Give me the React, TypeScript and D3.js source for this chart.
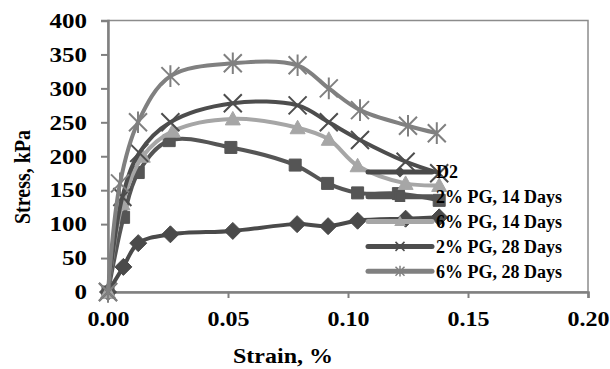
import React, { useEffect, useRef } from "react";
import * as d3 from "d3";

const seriesNames = ["D2", "2% PG, 14 Days", "6% PG, 14 Days", "2% PG, 28 Days", "6% PG, 28 Days"];

const strainD2 = [0, 0.0064, 0.0126, 0.026, 0.052, 0.0788, 0.0917, 0.104, 0.124, 0.138];
const stressD2 = [0, 37, 72, 85, 90, 100, 97, 105, 108, 110];

const strain2PG14 = [0, 0.0065, 0.0126, 0.0255, 0.0512, 0.078, 0.0915, 0.104, 0.121, 0.138];
const stress2PG14 = [0, 110, 176, 223, 213, 187, 160, 146, 145, 135];

const strain6PG14 = [0, 0.006, 0.0145, 0.027, 0.052, 0.079, 0.092, 0.104, 0.124, 0.138];
const stress6PG14 = [0, 130, 200, 237, 255, 242, 225, 186, 160, 157];

const strain2PG28 = [0, 0.006, 0.013, 0.026, 0.052, 0.079, 0.092, 0.105, 0.124, 0.138];
const stress2PG28 = [0, 140, 205, 250, 278, 275, 250, 224, 192, 175];

const strain6PG28 = [0, 0.005, 0.0125, 0.026, 0.052, 0.079, 0.092, 0.105, 0.125, 0.137];
const stress6PG28 = [0, 160, 250, 318, 337, 334, 300, 268, 245, 234];

const yTicks = [0, 50, 100, 150, 200, 250, 300, 350, 400];
const xTicks = [0, 0.05, 0.1, 0.15, 0.2];

const colors = ["#4a4a4a", "#555555", "#a6a6a6", "#4d4d4d", "#808080"];
const markers = ["diamond", "square", "triangle", "x", "star"];

const FONT = "'Liberation Serif', 'Times New Roman', serif";

function markerPath(kind: string, s: number) {
  const h = s / 2;
  if (kind === "diamond") return `M0,${-h}L${h},0L0,${h}L${-h},0Z`;
  if (kind === "square") return `M${-h},${-h}H${h}V${h}H${-h}Z`;
  if (kind === "triangle") return `M0,${-h}L${h},${h * 0.8}L${-h},${h * 0.8}Z`;
  if (kind === "x") return `M${-h},${-h}L${h},${h}M${-h},${h}L${h},${-h}`;
  return `M${-h},${-h}L${h},${h}M${-h},${h}L${h},${-h}M0,${-h * 1.2}V${h * 1.2}`;
}

const App = () => {
  const ref = useRef<SVGSVGElement>(null);
  const W = 610, H = 369;

  useEffect(() => {
    const svg = d3.select(ref.current);
    svg.selectAll("*").remove();

    const x = d3.scaleLinear().domain([0, 0.2]).range([108, 588]);
    const y = d3.scaleLinear().domain([0, 400]).range([292, 20.5]);

    const data = [
      { name: seriesNames[0], xs: strainD2, ys: stressD2 },
      { name: seriesNames[1], xs: strain2PG14, ys: stress2PG14 },
      { name: seriesNames[2], xs: strain6PG14, ys: stress6PG14 },
      { name: seriesNames[3], xs: strain2PG28, ys: stress2PG28 },
      { name: seriesNames[4], xs: strain6PG28, ys: stress6PG28 },
    ];

    // frame
    svg.append("rect")
      .attr("x", x(0)).attr("y", y(400))
      .attr("width", x(0.2) - x(0)).attr("height", y(0) - y(400))
      .attr("fill", "none").attr("stroke", "#8c8c8c").attr("stroke-width", 1.5);

    // y axis
    const yAxis = svg.append("g").attr("transform", `translate(${x(0)},0)`)
      .call(d3.axisLeft(y).tickValues(yTicks).tickSize(7).tickFormat(d3.format("d")));
    yAxis.select(".domain").attr("stroke", "#808080").attr("stroke-width", 2.5);
    yAxis.selectAll(".tick line").attr("stroke", "#808080").attr("stroke-width", 2);
    yAxis.selectAll(".tick text")
      .attr("x", 0).attr("dy", "0.34em")
      .attr("transform", "translate(-21,0) scale(1.25,1)")
      .attr("font-family", FONT).attr("font-weight", "bold").attr("font-size", 20).attr("fill", "#000");

    // x axis
    const xAxis = svg.append("g").attr("transform", `translate(0,${y(0)})`)
      .call(d3.axisBottom(x).tickValues(xTicks).tickSize(6).tickFormat(d3.format(".2f")));
    xAxis.select(".domain").attr("stroke", "#808080").attr("stroke-width", 2.5);
    xAxis.selectAll(".tick line").attr("stroke", "#808080").attr("stroke-width", 2);
    xAxis.selectAll(".tick text")
      .attr("y", 20).attr("dy", "0.71em")
      .attr("transform", "scale(1.2,1)")
      .attr("font-family", FONT).attr("font-weight", "bold").attr("font-size", 20).attr("fill", "#000");

    // titles
    svg.append("text")
      .attr("transform", `translate(22,177) rotate(-90) scale(1,1.2)`)
      .attr("text-anchor", "middle").attr("dy", "0.35em")
      .attr("font-family", FONT).attr("font-weight", "bold").attr("font-size", 20)
      .text("Stress, kPa");
    svg.append("text")
      .attr("transform", "translate(283,363) scale(1.2,1)")
      .attr("text-anchor", "middle")
      .attr("font-family", FONT).attr("font-weight", "bold").attr("font-size", 20)
      .text("Strain, %");

    const g = svg.append("g");
    data.forEach((s, i) => {
      const pts: [number, number][] = s.xs.map((v, j) => [x(v), y(s.ys[j])]);
      g.append("path")
        .attr("d", d3.line().curve(d3.curveCatmullRom.alpha(0.5))(pts))
        .attr("fill", "none").attr("stroke", colors[i]).attr("stroke-width", 4)
        .attr("stroke-linejoin", "round");
      const filled = ["diamond", "square", "triangle"].includes(markers[i]);
      const size = markers[i] === "diamond" ? 17 : markers[i] === "square" ? 12 : markers[i] === "triangle" ? 15 : 18;
      g.selectAll(`path.m${i}`)
        .data(pts)
        .join("path")
        .attr("class", `m${i}`)
        .attr("transform", d => `translate(${d[0]},${d[1]})`)
        .attr("d", markerPath(markers[i], size))
        .attr("fill", filled ? colors[i] : "none")
        .attr("stroke", colors[i])
        .attr("stroke-width", filled ? 1 : 2);
    });

    // legend
    const leg = svg.append("g");
    data.forEach((s, i) => {
      const ly = 172 + i * 24.8;
      leg.append("line")
        .attr("x1", 368).attr("x2", 432).attr("y1", ly).attr("y2", ly)
        .attr("stroke", colors[i]).attr("stroke-width", 5).attr("stroke-linecap", "round");
      const filled = ["diamond", "square", "triangle"].includes(markers[i]);
      leg.append("path")
        .attr("transform", `translate(400,${ly})`)
        .attr("d", markerPath(markers[i], 9))
        .attr("fill", filled ? colors[i] : "none")
        .attr("stroke", colors[i]).attr("stroke-width", 1.5);
      leg.append("text")
        .attr("x", 436).attr("y", ly).attr("dy", "0.35em")
        .attr("font-family", FONT).attr("font-weight", "bold").attr("font-size", 18)
        .text(s.name);
    });
  }, []);

  return (
    <div style={{ position: "fixed", left: 0, top: 0, width: W, height: H, background: "#fff" }}>
      <svg ref={ref} width={W} height={H} style={{ display: "block" }} />
    </div>
  );
};

export default App;
